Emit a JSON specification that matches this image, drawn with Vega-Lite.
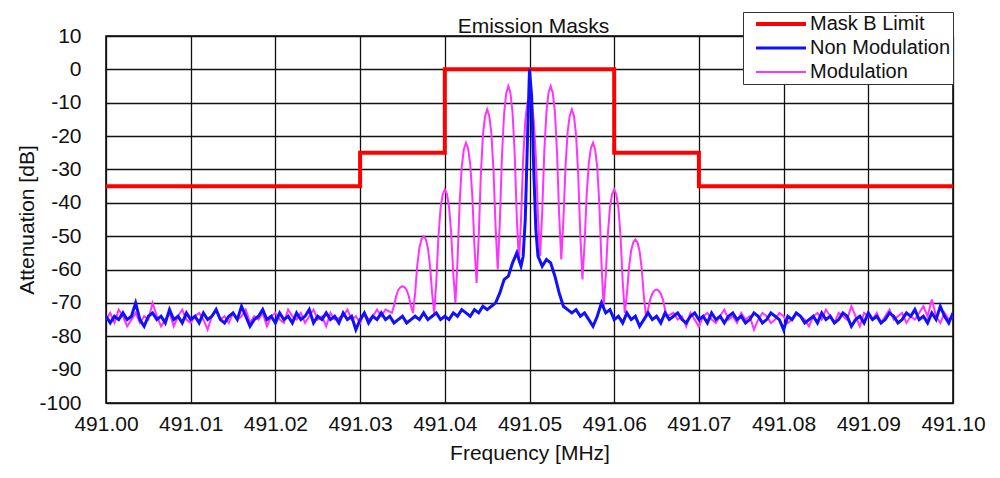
{
"$schema":"https://vega.github.io/schema/vega-lite/v6.json",
"width":847,"height":367,
"autosize":"none",
"padding":{"left":106,"top":36,"right":47,"bottom":75},
"background":"white",
"title":{"text":"Emission Masks","fontSize":21,"fontWeight":"normal","font":"Liberation Sans","color":"#111","offset":-25,"anchor":"middle","dx":4,"frame":"group"},
"config":{"font":"Liberation Sans","view":{"stroke":"#000","strokeWidth":1.5},
 "axis":{"gridColor":"#111","gridWidth":1.3,"gridOpacity":1,"domain":false,"ticks":false,"labelFontSize":21,"labelColor":"#111","titleFontSize":21,"titleFontWeight":"normal","titleColor":"#111","labelFont":"Liberation Sans","titleFont":"Liberation Sans"}},
"datasets":{
"mask":[{"i":0,"f":491.0,"v":-35},{"i":1,"f":491.03,"v":-35},{"i":2,"f":491.03,"v":-25},{"i":3,"f":491.04,"v":-25},{"i":4,"f":491.04,"v":0},{"i":5,"f":491.06,"v":0},{"i":6,"f":491.06,"v":-25},{"i":7,"f":491.07,"v":-25},{"i":8,"f":491.07,"v":-35},{"i":9,"f":491.1,"v":-35}],
"mod":[
{"f":491.0000,"v":-75},{"f":491.0005,"v":-73},{"f":491.0010,"v":-76},{"f":491.0015,"v":-72},{"f":491.0020,"v":-74},{"f":491.0025,"v":-77},{"f":491.0030,"v":-75},{"f":491.0035,"v":-73},{"f":491.0040,"v":-76},{"f":491.0045,"v":-74},
{"f":491.0050,"v":-75},{"f":491.0055,"v":-70},{"f":491.0060,"v":-74},{"f":491.0065,"v":-77},{"f":491.0070,"v":-75},{"f":491.0075,"v":-73},{"f":491.0080,"v":-77},{"f":491.0085,"v":-74},{"f":491.0090,"v":-72},{"f":491.0095,"v":-75},
{"f":491.0100,"v":-76},{"f":491.0105,"v":-74},{"f":491.0110,"v":-73},{"f":491.0115,"v":-75},{"f":491.0120,"v":-78},{"f":491.0125,"v":-74},{"f":491.0130,"v":-72},{"f":491.0135,"v":-75},{"f":491.0140,"v":-74},{"f":491.0145,"v":-76},
{"f":491.0150,"v":-73},{"f":491.0155,"v":-75},{"f":491.0160,"v":-74},{"f":491.0165,"v":-72},{"f":491.0170,"v":-76},{"f":491.0175,"v":-74},{"f":491.0180,"v":-75},{"f":491.0185,"v":-73},{"f":491.0190,"v":-77},{"f":491.0195,"v":-74},
{"f":491.0200,"v":-73},{"f":491.0205,"v":-75},{"f":491.0210,"v":-76},{"f":491.0215,"v":-72},{"f":491.0220,"v":-74},{"f":491.0225,"v":-75},{"f":491.0230,"v":-73},{"f":491.0235,"v":-76},{"f":491.0240,"v":-74},{"f":491.0245,"v":-72},
{"f":491.0250,"v":-75},{"f":491.0255,"v":-74},{"f":491.0260,"v":-77},{"f":491.0265,"v":-73},{"f":491.0270,"v":-75},{"f":491.0280,"v":-74},{"f":491.0285,"v":-72},{"f":491.0290,"v":-75},{"f":491.0295,"v":-74},
{"f":491.0300,"v":-76},{"f":491.0305,"v":-73},{"f":491.0310,"v":-75},{"f":491.0315,"v":-74},{"f":491.0320,"v":-72},{"f":491.0325,"v":-74},{"f":491.0330,"v":-72},
{"f":491.03375,"v":-73},{"f":491.0340,"v":-70.9},{"f":491.03425,"v":-68},{"f":491.0345,"v":-66.2},{"f":491.03475,"v":-65.3},{"f":491.0350,"v":-65},{"f":491.03525,"v":-65.3},{"f":491.0355,"v":-66.2},{"f":491.03575,"v":-68},{"f":491.0360,"v":-70.9},
{"f":491.03625,"v":-73},{"f":491.0365,"v":-67},{"f":491.03675,"v":-58.7},{"f":491.0370,"v":-53.5},{"f":491.03725,"v":-50.9},{"f":491.0375,"v":-50},{"f":491.03775,"v":-50.9},{"f":491.0380,"v":-53.5},{"f":491.03825,"v":-58.7},{"f":491.0385,"v":-67},
{"f":491.03875,"v":-73},{"f":491.0390,"v":-63.4},{"f":491.03925,"v":-50.1},{"f":491.0395,"v":-41.6},{"f":491.03975,"v":-37.5},{"f":491.0400,"v":-36},{"f":491.04025,"v":-37.4},{"f":491.0405,"v":-41.1},{"f":491.04075,"v":-48.9},{"f":491.0410,"v":-61.2},
{"f":491.04125,"v":-70},{"f":491.0415,"v":-57.5},{"f":491.04175,"v":-40.2},{"f":491.0420,"v":-29.2},{"f":491.04225,"v":-23.9},{"f":491.0425,"v":-22},{"f":491.04275,"v":-23.7},{"f":491.0430,"v":-28.3},{"f":491.04325,"v":-38},{"f":491.0435,"v":-53.1},
{"f":491.04375,"v":-64},{"f":491.0440,"v":-50.5},{"f":491.04425,"v":-31.8},{"f":491.0445,"v":-19.8},{"f":491.04475,"v":-14.1},{"f":491.0450,"v":-12},{"f":491.04525,"v":-13.9},{"f":491.0455,"v":-19.2},{"f":491.04575,"v":-30.2},{"f":491.0460,"v":-47.5},
{"f":491.04625,"v":-60},{"f":491.0465,"v":-45.7},{"f":491.04675,"v":-25.9},{"f":491.0470,"v":-13.3},{"f":491.04725,"v":-7.2},{"f":491.0475,"v":-5},{"f":491.04775,"v":-7.1},{"f":491.0480,"v":-13},{"f":491.04825,"v":-25.1},{"f":491.0485,"v":-44.2},
{"f":491.04875,"v":-58},{"f":491.0490,"v":-45},{"f":491.04925,"v":-27},{"f":491.0495,"v":-15.5},{"f":491.04975,"v":-10},{"f":491.0500,"v":-8},{"f":491.05025,"v":-9.9},{"f":491.0505,"v":-15.2},{"f":491.05075,"v":-26.2},{"f":491.0510,"v":-43.5},
{"f":491.05125,"v":-56},{"f":491.0515,"v":-42.7},{"f":491.05175,"v":-24.4},{"f":491.0520,"v":-12.7},{"f":491.05225,"v":-7},{"f":491.0525,"v":-5},{"f":491.05275,"v":-7.1},{"f":491.0530,"v":-12.8},{"f":491.05325,"v":-24.8},{"f":491.0535,"v":-43.5},
{"f":491.05375,"v":-57},{"f":491.0540,"v":-45.3},{"f":491.05425,"v":-29.1},{"f":491.0545,"v":-18.8},{"f":491.05475,"v":-13.8},{"f":491.0550,"v":-12},{"f":491.05525,"v":-14},{"f":491.0555,"v":-19.7},{"f":491.05575,"v":-31.4},{"f":491.0560,"v":-49.7},
{"f":491.05625,"v":-63},{"f":491.0565,"v":-52.3},{"f":491.05675,"v":-37.6},{"f":491.0570,"v":-28.2},{"f":491.05725,"v":-23.6},{"f":491.0575,"v":-22},{"f":491.05775,"v":-24},{"f":491.0580,"v":-29.4},{"f":491.05825,"v":-40.6},{"f":491.0585,"v":-58.3},
{"f":491.05875,"v":-71},{"f":491.0590,"v":-61.9},{"f":491.05925,"v":-49.3},{"f":491.0595,"v":-41.3},{"f":491.05975,"v":-37.4},{"f":491.0600,"v":-36},{"f":491.06025,"v":-37.5},{"f":491.0605,"v":-41.6},{"f":491.06075,"v":-50.1},{"f":491.0610,"v":-63.4},
{"f":491.06125,"v":-73},{"f":491.0615,"v":-67.3},{"f":491.06175,"v":-59.4},{"f":491.0620,"v":-54.3},{"f":491.06225,"v":-51.9},{"f":491.0625,"v":-51},{"f":491.06275,"v":-51.9},{"f":491.0630,"v":-54.5},{"f":491.06325,"v":-59.7},{"f":491.0635,"v":-68},
{"f":491.06375,"v":-74},{"f":491.0640,"v":-71.9},{"f":491.06425,"v":-69},{"f":491.0645,"v":-67.2},{"f":491.06475,"v":-66.3},{"f":491.0650,"v":-66},{"f":491.06525,"v":-66.3},{"f":491.0655,"v":-67.2},{"f":491.06575,"v":-69},{"f":491.0660,"v":-71.9},
{"f":491.06625,"v":-74},
{"f":491.0670,"v":-73},{"f":491.0675,"v":-75},{"f":491.0680,"v":-74},{"f":491.0685,"v":-77},{"f":491.0690,"v":-73},{"f":491.0695,"v":-75},{"f":491.0700,"v":-77},{"f":491.0705,"v":-74},{"f":491.0710,"v":-73},{"f":491.0715,"v":-75},
{"f":491.0720,"v":-76},{"f":491.0725,"v":-74},{"f":491.0730,"v":-72},{"f":491.0735,"v":-75},{"f":491.0740,"v":-74},{"f":491.0745,"v":-76},{"f":491.0750,"v":-73},{"f":491.0755,"v":-75},{"f":491.0760,"v":-74},{"f":491.0765,"v":-78},
{"f":491.0770,"v":-75},{"f":491.0775,"v":-73},{"f":491.0780,"v":-74},{"f":491.0785,"v":-76},{"f":491.0790,"v":-75},{"f":491.0795,"v":-73},{"f":491.0800,"v":-74},{"f":491.0805,"v":-76},{"f":491.0810,"v":-75},{"f":491.0815,"v":-73},
{"f":491.0820,"v":-74},{"f":491.0825,"v":-75},{"f":491.0830,"v":-77},{"f":491.0835,"v":-74},{"f":491.0840,"v":-73},{"f":491.0845,"v":-75},{"f":491.0850,"v":-72},{"f":491.0855,"v":-74},{"f":491.0860,"v":-76},{"f":491.0865,"v":-73},
{"f":491.0870,"v":-74},{"f":491.0875,"v":-75},{"f":491.0880,"v":-71},{"f":491.0885,"v":-74},{"f":491.0890,"v":-77},{"f":491.0895,"v":-73},{"f":491.0900,"v":-74},{"f":491.0905,"v":-75},{"f":491.0910,"v":-73},{"f":491.0915,"v":-76},
{"f":491.0920,"v":-74},{"f":491.0925,"v":-72},{"f":491.0930,"v":-75},{"f":491.0935,"v":-74},{"f":491.0940,"v":-73},{"f":491.0945,"v":-76},{"f":491.0950,"v":-74},{"f":491.0955,"v":-75},{"f":491.0960,"v":-73},{"f":491.0965,"v":-71},
{"f":491.0970,"v":-74},{"f":491.0975,"v":-69},{"f":491.0980,"v":-74},{"f":491.0985,"v":-76},{"f":491.0990,"v":-73},{"f":491.0995,"v":-75},{"f":491.1000,"v":-74}],
"nonmod":[
{"f":491.0000,"v":-74},{"f":491.0005,"v":-76},{"f":491.0010,"v":-74},{"f":491.0015,"v":-75},{"f":491.0020,"v":-73},{"f":491.0025,"v":-75},{"f":491.0030,"v":-74},{"f":491.0035,"v":-70},{"f":491.0040,"v":-75},{"f":491.0045,"v":-77},
{"f":491.0050,"v":-74},{"f":491.0055,"v":-73},{"f":491.0060,"v":-75},{"f":491.0065,"v":-74},{"f":491.0070,"v":-76},{"f":491.0075,"v":-72},{"f":491.0080,"v":-75},{"f":491.0085,"v":-74},{"f":491.0090,"v":-76},{"f":491.0095,"v":-73},
{"f":491.0100,"v":-75},{"f":491.0105,"v":-74},{"f":491.0110,"v":-76},{"f":491.0115,"v":-73},{"f":491.0120,"v":-75},{"f":491.0125,"v":-74},{"f":491.0130,"v":-72},{"f":491.0135,"v":-75},{"f":491.0140,"v":-76},{"f":491.0145,"v":-74},
{"f":491.0150,"v":-73},{"f":491.0155,"v":-75},{"f":491.0160,"v":-71},{"f":491.0165,"v":-74},{"f":491.0170,"v":-77},{"f":491.0175,"v":-75},{"f":491.0180,"v":-74},{"f":491.0185,"v":-72},{"f":491.0190,"v":-75},{"f":491.0195,"v":-74},
{"f":491.0200,"v":-76},{"f":491.0205,"v":-73},{"f":491.0210,"v":-75},{"f":491.0215,"v":-74},{"f":491.0220,"v":-76},{"f":491.0225,"v":-73},{"f":491.0230,"v":-75},{"f":491.0235,"v":-74},{"f":491.0240,"v":-72},{"f":491.0245,"v":-76},
{"f":491.0250,"v":-74},{"f":491.0255,"v":-75},{"f":491.0260,"v":-73},{"f":491.0265,"v":-75},{"f":491.0270,"v":-74},{"f":491.0275,"v":-76},{"f":491.0280,"v":-73},{"f":491.0285,"v":-75},{"f":491.0290,"v":-74},{"f":491.0295,"v":-78},
{"f":491.0300,"v":-75},{"f":491.0305,"v":-73},{"f":491.0310,"v":-76},{"f":491.0315,"v":-74},{"f":491.0320,"v":-75},{"f":491.0325,"v":-73},{"f":491.0330,"v":-75},{"f":491.0335,"v":-74},{"f":491.0340,"v":-76},{"f":491.0345,"v":-75},
{"f":491.0350,"v":-74},{"f":491.0355,"v":-76},{"f":491.0360,"v":-75},{"f":491.0365,"v":-74},{"f":491.0370,"v":-75},{"f":491.0375,"v":-73},{"f":491.0380,"v":-75},{"f":491.0385,"v":-74},{"f":491.0390,"v":-73},{"f":491.0395,"v":-75},
{"f":491.0400,"v":-74},{"f":491.0405,"v":-75},{"f":491.0410,"v":-73},{"f":491.0415,"v":-74},{"f":491.0420,"v":-72},{"f":491.0425,"v":-73},{"f":491.0430,"v":-74},{"f":491.0435,"v":-72},{"f":491.0440,"v":-73},{"f":491.0445,"v":-71},
{"f":491.0450,"v":-72},{"f":491.0455,"v":-71},{"f":491.0460,"v":-70},{"f":491.0465,"v":-67},{"f":491.0470,"v":-63},{"f":491.0475,"v":-62},{"f":491.0480,"v":-58},{"f":491.0485,"v":-55},{"f":491.0490,"v":-59},{"f":491.04925,"v":-56},
{"f":491.0495,"v":-45},{"f":491.04975,"v":-22},{"f":491.0500,"v":0},{"f":491.05025,"v":-8},{"f":491.0505,"v":-30},{"f":491.05075,"v":-48},{"f":491.0510,"v":-56},{"f":491.0515,"v":-59},{"f":491.0520,"v":-57},{"f":491.0525,"v":-58},
{"f":491.0530,"v":-62},{"f":491.0535,"v":-67},{"f":491.0540,"v":-71},{"f":491.0545,"v":-72},{"f":491.0550,"v":-73},{"f":491.0555,"v":-72},{"f":491.0560,"v":-74},{"f":491.0565,"v":-73},{"f":491.0570,"v":-75},{"f":491.0575,"v":-77},
{"f":491.0580,"v":-74},{"f":491.0585,"v":-70},{"f":491.0590,"v":-73},{"f":491.0595,"v":-72},{"f":491.0600,"v":-75},{"f":491.0605,"v":-74},{"f":491.0610,"v":-76},{"f":491.0615,"v":-73},{"f":491.0620,"v":-75},{"f":491.0625,"v":-74},
{"f":491.0630,"v":-77},{"f":491.0635,"v":-75},{"f":491.0640,"v":-73},{"f":491.0645,"v":-75},{"f":491.0650,"v":-74},{"f":491.0655,"v":-76},{"f":491.0660,"v":-73},{"f":491.0665,"v":-75},{"f":491.0670,"v":-74},{"f":491.0675,"v":-73},
{"f":491.0680,"v":-75},{"f":491.0685,"v":-76},{"f":491.0690,"v":-74},{"f":491.0695,"v":-73},{"f":491.0700,"v":-75},{"f":491.0705,"v":-74},{"f":491.0710,"v":-76},{"f":491.0715,"v":-73},{"f":491.0720,"v":-75},{"f":491.0725,"v":-74},
{"f":491.0730,"v":-76},{"f":491.0735,"v":-74},{"f":491.0740,"v":-73},{"f":491.0745,"v":-75},{"f":491.0750,"v":-74},{"f":491.0755,"v":-76},{"f":491.0760,"v":-75},{"f":491.0765,"v":-73},{"f":491.0770,"v":-74},{"f":491.0775,"v":-76},
{"f":491.0780,"v":-75},{"f":491.0785,"v":-73},{"f":491.0790,"v":-74},{"f":491.0795,"v":-75},{"f":491.0800,"v":-78},{"f":491.0805,"v":-74},{"f":491.0810,"v":-75},{"f":491.0815,"v":-73},{"f":491.0820,"v":-74},{"f":491.0825,"v":-76},
{"f":491.0830,"v":-75},{"f":491.0835,"v":-74},{"f":491.0840,"v":-76},{"f":491.0845,"v":-73},{"f":491.0850,"v":-75},{"f":491.0855,"v":-74},{"f":491.0860,"v":-76},{"f":491.0865,"v":-75},{"f":491.0870,"v":-73},{"f":491.0875,"v":-74},
{"f":491.0880,"v":-77},{"f":491.0885,"v":-75},{"f":491.0890,"v":-74},{"f":491.0895,"v":-76},{"f":491.0900,"v":-73},{"f":491.0905,"v":-75},{"f":491.0910,"v":-74},{"f":491.0915,"v":-76},{"f":491.0920,"v":-75},{"f":491.0925,"v":-73},
{"f":491.0930,"v":-74},{"f":491.0935,"v":-76},{"f":491.0940,"v":-75},{"f":491.0945,"v":-73},{"f":491.0950,"v":-74},{"f":491.0955,"v":-72},{"f":491.0960,"v":-75},{"f":491.0965,"v":-74},{"f":491.0970,"v":-76},{"f":491.0975,"v":-73},
{"f":491.0980,"v":-75},{"f":491.0985,"v":-71},{"f":491.0990,"v":-74},{"f":491.0995,"v":-76},{"f":491.1000,"v":-73}]
},
"encoding":{
 "x":{"field":"f","type":"quantitative","scale":{"domain":[491.0,491.1],"nice":false,"zero":false},
   "axis":{"title":"Frequency [MHz]","values":[491.0,491.01,491.02,491.03,491.04,491.05,491.06,491.07,491.08,491.09,491.1],"format":".2f","labelPadding":10,"titlePadding":8,"labelFlush":false,"labelOverlap":false}},
 "y":{"field":"v","type":"quantitative","scale":{"domain":[-100,10],"nice":false,"zero":false},
   "axis":{"title":"Attenuation [dB]","values":[-100,-90,-80,-70,-60,-50,-40,-30,-20,-10,0,10],"labelExpr":"datum.value + ''","labelPadding":25,"titlePadding":1,"labelOverlap":false}}
},
"layer":[
 {"data":{"name":"mask"},"mark":{"type":"line","strokeJoin":"miter","clip":true},
  "encoding":{"order":{"field":"i","type":"quantitative"},
   "color":{"datum":"Mask B Limit","type":"nominal","scale":{"domain":["Mask B Limit","Non Modulation","Modulation"],"range":["#ff0000","#1010ff","#ff33ff"]},
     "legend":{"title":null,"orient":"none","legendX":637,"legendY":-24,"direction":"vertical","strokeColor":"#333","fillColor":"white","padding":2,"labelFontSize":20,"labelFont":"Liberation Sans","labelColor":"#111","symbolType":"M-1,0H9","symbolSize":100,"labelOffset":39,"rowPadding":4,"symbolOffset":6}},
   "strokeWidth":{"datum":"Mask B Limit","type":"nominal","scale":{"domain":["Mask B Limit","Non Modulation","Modulation"],"range":[4,2,2]}}}},
 {"data":{"name":"mod"},"mark":{"type":"line","clip":true},
  "encoding":{"color":{"datum":"Modulation","type":"nominal"},"strokeWidth":{"datum":"Modulation","type":"nominal"}}},
 {"data":{"name":"nonmod"},"mark":{"type":"line","clip":true},
  "encoding":{"color":{"datum":"Non Modulation","type":"nominal"},"strokeWidth":{"datum":"Non Modulation","type":"nominal"}}}
]
}
